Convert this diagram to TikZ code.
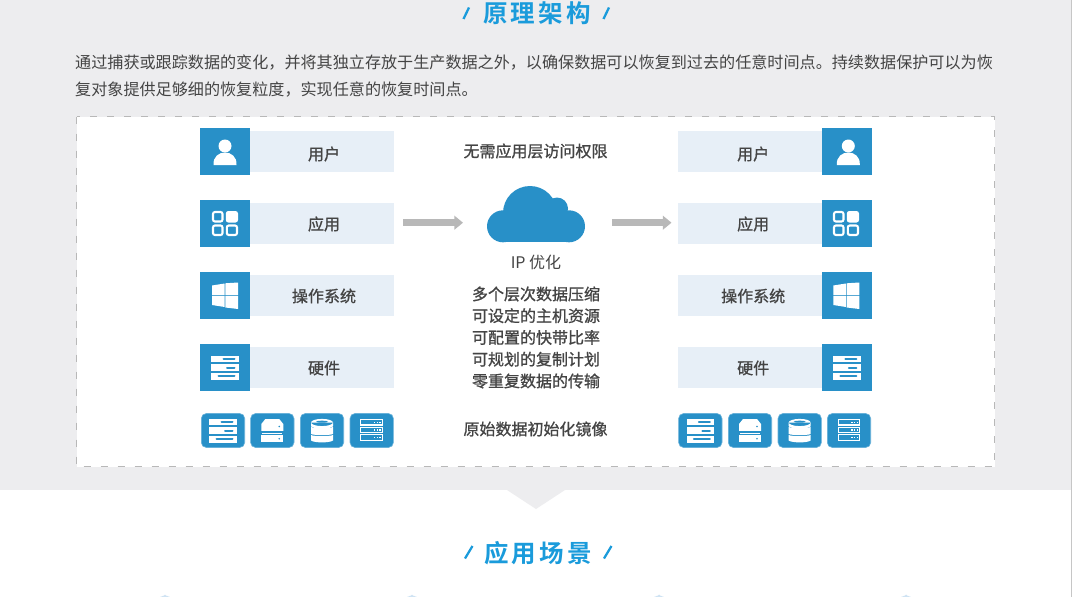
\documentclass[tikz,border=0pt]{standalone}
\usepackage{fontspec}
\setmainfont{Noto Sans CJK SC}
\newfontfamily\medf[FakeBold=1]{Noto Sans CJK SC}
\newfontfamily\ttlf[LetterSpace=12.5]{Noto Sans CJK SC Bold}
\usetikzlibrary{arrows.meta}
\definecolor{pagegray}{HTML}{EDEDEF}
\definecolor{iconblue}{HTML}{2890C8}
\definecolor{barblue}{HTML}{E7EFF7}
\definecolor{titleblue}{HTML}{1A9BDB}
\definecolor{txt}{HTML}{444444}
\definecolor{arrowgray}{HTML}{B8B8B8}
\definecolor{tipblue}{HTML}{CFE3F3}
\tikzset{
  bigicon/.style={fill=iconblue,draw=none,minimum width=50pt,minimum height=47pt,inner sep=0pt,outer sep=0pt},
  barbox/.style={fill=barblue,draw=none,minimum width=144pt,minimum height=41pt,inner sep=0pt,outer sep=0pt},
  bartext/.style={text=txt,inner sep=0pt,font=\medf\fontsize{16}{20}\selectfont},
  smallicon/.style={fill=iconblue,draw=iconblue!70!white,line width=0.6pt,rounded corners=5pt,minimum width=43.4pt,minimum height=34pt,inner sep=0pt,outer sep=0pt},
  midtext/.style={text=txt,font=\medf\fontsize{16}{21.75}\selectfont,align=center,inner sep=0pt},
  title/.style={text=titleblue,font=\ttlf\fontsize{24.5}{28}\selectfont,inner sep=0pt},
  slashmark/.style={draw=titleblue,line width=2.3pt},
  flow/.style={draw=arrowgray,line width=6.7pt,-{Triangle[length=8.7pt,width=13.7pt,fill=arrowgray]}},
  personpic/.pic={
    \fill[white] (0,-5.5) circle (6.5);
    \fill[white] (-11.5,13.5) .. controls (-12,5) and (-6,1) .. (0,1) .. controls (6,1) and (12,5) .. (11.5,13.5) -- cycle;
  },
  appspic/.pic={
    \draw[white,line width=2.1pt,rounded corners=2pt] (-12,-11.5) rectangle (-2.5,-2);
    \fill[white,rounded corners=2.5pt] (0.8,-12.5) rectangle (13,-1);
    \draw[white,line width=2.1pt,rounded corners=2pt] (-12,2) rectangle (-2.5,11.5);
    \draw[white,line width=2.1pt,rounded corners=2pt] (1.8,2) rectangle (12,11.5);
  },
  winpic/.pic={
    \fill[white] (-13,-10) -- (-0.4,-12) -- (-0.4,-0.4) -- (-13,-0.4) -- cycle;
    \fill[white] (0.4,-12.2) -- (13,-13) -- (13,-0.4) -- (0.4,-0.4) -- cycle;
    \fill[white] (-13,0.4) -- (-0.4,0.4) -- (-0.4,11.5) -- (-13,9.5) -- cycle;
    \fill[white] (0.4,0.4) -- (13,0.4) -- (13,13.5) -- (0.4,12) -- cycle;
  },
  rackpic/.pic={
    \fill[white] (-13.7,-11.5) rectangle (13.7,-5.2);
    \fill[white] (-13.7,-3.2) rectangle (13.7,3.2);
    \fill[white] (-13.7,5.2) rectangle (13.7,12);
    \draw[iconblue,line width=2pt,line cap=round] (-1.5,-8.4) -- (9.5,-8.4);
    \draw[iconblue,line width=2pt,line cap=round] (2,0) -- (9.5,0);
    \draw[iconblue,line width=2pt,line cap=round] (-6.5,8.6) -- (9.5,8.6);
  },
  boxpic/.pic={
    \fill[white] (-7,-11.5) -- (7,-11.5) -- (11,-6.5) -- (11,0.3) -- (-11,0.3) -- (-11,-6.5) -- cycle;
    \fill[white] (-10,2) rectangle (10,3);
    \fill[white] (-11,4.7) rectangle (11,11.8);
    \fill[iconblue] (7,-4) circle (0.9);
    \fill[iconblue] (7,8.2) circle (0.9);
  },
  drumpic/.pic={
    \fill[white] (-11,-8) arc[start angle=180,end angle=360,x radius=11,y radius=-3.6] -- (11,-4.5) arc[start angle=0,end angle=-180,x radius=11,y radius=-2.5] -- cycle;
    \fill[white] (-11,-8) arc[start angle=180,end angle=0,x radius=11,y radius=-3.6] -- cycle;
    \fill[white] (-11,-3.5) .. controls (-8,-2) and (8,-2) .. (11,-3.5) -- (11,3.5) .. controls (8,5) and (-8,5) .. (-11,3.5) -- cycle;
    \fill[white] (-11,4.5) .. controls (-8,6) and (8,6) .. (11,4.5) -- (11,10) .. controls (8,12.5) and (-8,12.5) .. (-11,10) -- cycle;
    \fill[iconblue] (0,-8.8) ellipse (6 and 1);
  },
  rowspic/.pic={
    \foreach \yy in {-8.2,-0.7,7} {
      \draw[white,line width=1.1pt,fill=iconblue] (-10.8,\yy-2.7) rectangle (10.8,\yy+2.7);
      \fill[white] (2,\yy-0.8) rectangle (3.6,\yy+0.8);
      \fill[white] (4.8,\yy-0.8) rectangle (6.4,\yy+0.8);
      \fill[white] (7.6,\yy-0.8) rectangle (9.2,\yy+0.8);
    }
  },
  tippic/.pic={\fill[tipblue] (-5,2.5) -- (-1,1) -- (0,0) -- (1,1) -- (5,2.5) -- cycle;}
}
\begin{document}
\begin{tikzpicture}[x=1pt,y=-1pt]
\useasboundingbox (0,0) rectangle (1072,597);
% page bands
\fill[white] (0,0) rectangle (1072,597);
\fill[pagegray] (0,0) rectangle (1071,490);
\fill[pagegray] (507,490) -- (565,490) -- (536,509) -- cycle;
\draw[gray!45,line width=1pt] (1071.5,0) -- (1071.5,597);
% title
\node[title] (t1) at (537,13) {原理架构};
\draw[slashmark] (463.5,19) -- (469,7.5);
\draw[slashmark] (603.5,19) -- (609,7.5);
% paragraph
\node[anchor=north west,align=left,text=txt,inner sep=0pt,font=\fontsize{16.1}{27}\selectfont] (para) at (75,55)
 {通过捕获或跟踪数据的变化，并将其独立存放于生产数据之外，以确保数据可以恢复到过去的任意时间点。持续数据保护可以为恢\\复对象提供足够细的恢复粒度，实现任意的恢复时间点。};
% dashed frame
\draw[fill=white,draw=arrowgray,line width=1pt,dash pattern=on 7pt off 10pt] (76.5,116.5) rectangle (994.5,466.5);
% left column
\node[bigicon] (li1) at (225,151.5) {};
\node[bigicon] (li2) at (225,223.5) {};
\node[bigicon] (li3) at (225,295.5) {};
\node[bigicon] (li4) at (225,367.5) {};
\node[barbox] (lb1) at (322,151.5) {};
\node[barbox] (lb2) at (322,223.5) {};
\node[barbox] (lb3) at (322,295.5) {};
\node[barbox] (lb4) at (322,367.5) {};
\node[bartext] (lt1) at (324,154) {用户};
\node[bartext] (lt2) at (324,224) {应用};
\node[bartext] (lt3) at (324,296) {操作系统};
\node[bartext] (lt4) at (324,368) {硬件};
\pic at (li1) {personpic};
\pic at (li2) {appspic};
\pic at (li3) {winpic};
\pic at (li4) {rackpic};
% right column
\node[bigicon] (ri1) at (847,151.5) {};
\node[bigicon] (ri2) at (847,223.5) {};
\node[bigicon] (ri3) at (847,295.5) {};
\node[bigicon] (ri4) at (847,367.5) {};
\node[barbox] (rb1) at (750,151.5) {};
\node[barbox] (rb2) at (750,223.5) {};
\node[barbox] (rb3) at (750,295.5) {};
\node[barbox] (rb4) at (750,367.5) {};
\node[bartext] (rt1) at (753.2,154) {用户};
\node[bartext] (rt2) at (753.2,224) {应用};
\node[bartext] (rt3) at (753.2,296) {操作系统};
\node[bartext] (rt4) at (753.2,368) {硬件};
\pic at (848.3,151.5) {personpic};
\pic at (846,223.5) {appspic};
\pic at (846.3,295.5) {winpic};
\pic at (846.8,367.5) {rackpic};
% small icons
\node[smallicon] (ls1) at (223,430.5) {};
\node[smallicon] (ls2) at (272.3,430.5) {};
\node[smallicon] (ls3) at (322,430.5) {};
\node[smallicon] (ls4) at (371.7,430.5) {};
\node[smallicon] (rs1) at (700.3,430.5) {};
\node[smallicon] (rs2) at (750,430.5) {};
\node[smallicon] (rs3) at (799.7,430.5) {};
\node[smallicon] (rs4) at (849,430.5) {};
\pic at (ls1) {rackpic};
\pic at (ls2) {boxpic};
\pic at (ls3) {drumpic};
\pic at (ls4) {rowspic};
\pic at (rs1) {rackpic};
\pic at (rs2) {boxpic};
\pic at (rs3) {drumpic};
\pic at (rs4) {rowspic};
% centre
\node[midtext] (m1) at (535.5,151) {无需应用层访问权限};
\fill[iconblue] (530,213) circle (27);
\fill[iconblue] (557,208.5) circle (11);
\fill[iconblue] (503,226.3) circle (16);
\fill[iconblue] (569,226.3) circle (16);
\fill[iconblue] (503,215) rectangle (569,242.3);
\node[midtext,font=\fontsize{16}{21.75}\selectfont] (m2) at (536,262) {IP 优化};
\node[midtext] (m3) at (536,337.5) {多个层次数据压缩\\可设定的主机资源\\可配置的快带比率\\可规划的复制计划\\零重复数据的传输};
\node[midtext] (m4) at (535.5,429) {原始数据初始化镜像};
% arrows
\coordinate (a1s) at (403,222.7);
\coordinate (a1e) at (463,222.7);
\coordinate (a2s) at (612,222.7);
\coordinate (a2e) at (671.5,222.7);
\draw[flow] (a1s) -- (a1e);
\draw[flow] (a2s) -- (a2e);
% second title
\node[title] (t2) at (538,553) {应用场景};
\draw[slashmark] (465,558.5) -- (472.5,546);
\draw[slashmark] (604,558.5) -- (611.5,546);
% cropped icon tops along the bottom edge
\pic at (165,594.5) {tippic};
\pic at (412,594.5) {tippic};
\pic at (659,594.5) {tippic};
\pic at (906,594.5) {tippic};
\end{tikzpicture}
\end{document}
